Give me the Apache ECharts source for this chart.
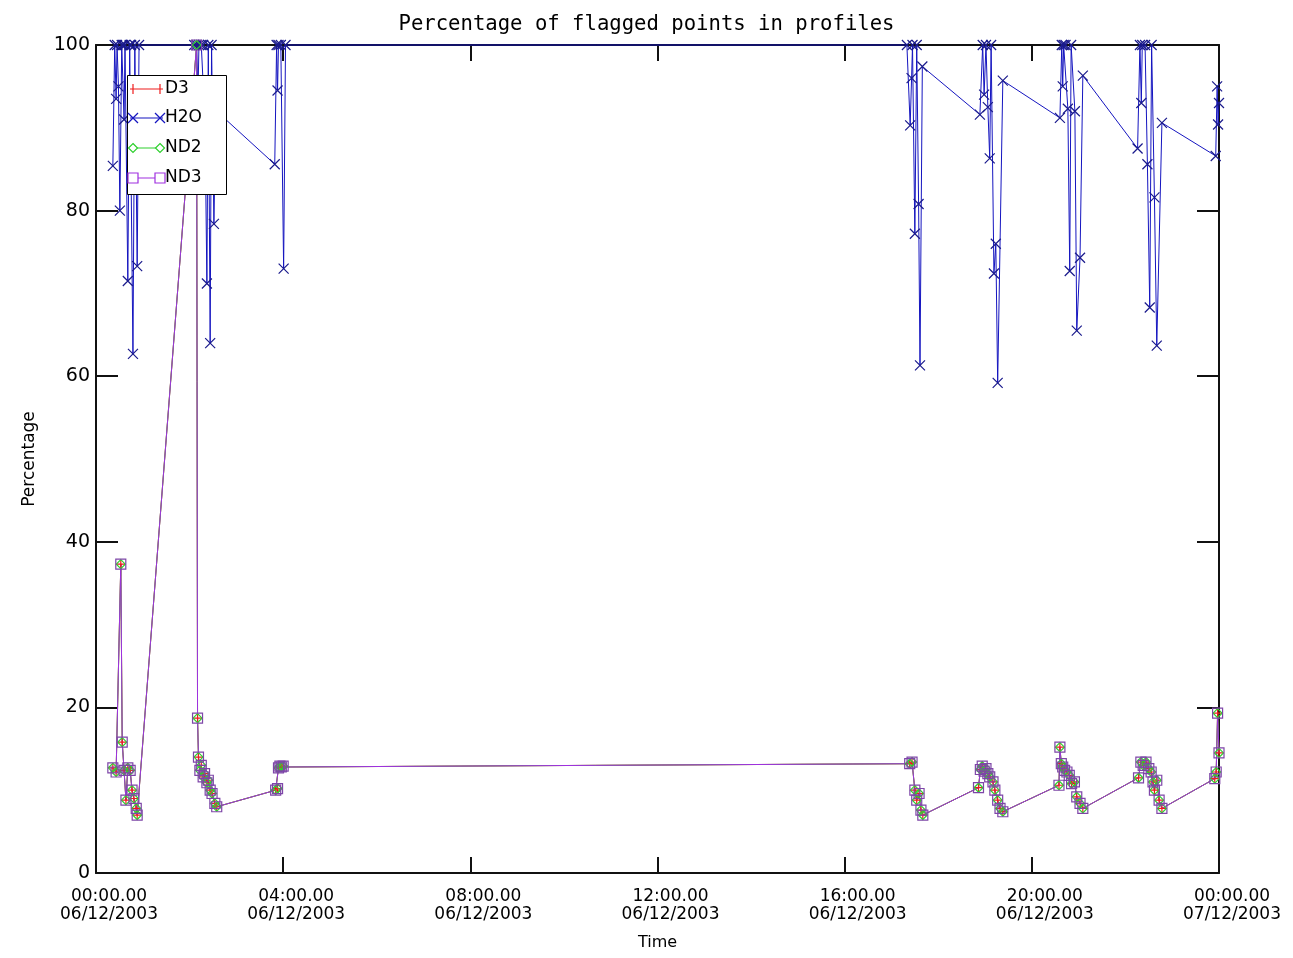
<!DOCTYPE html>
<html>
<head>
<meta charset="utf-8">
<script src="https://cdn.jsdelivr.net/npm/echarts@6/dist/echarts.min.js"></script>
<style>
html,body{margin:0;padding:0;background:#fff;}
#chart{width:1293px;height:958px;}
</style>
</head>
<body>
<div id="chart"></div>
<script>
// ---- Data (time in hours from 00:00 06/12/2003, value in percent) ----
const h2oTime = [0.36,0.40,0.43,0.45,0.48,0.51,0.55,0.58,0.60,0.62,0.68,0.72,0.75,0.79,0.83,0.88,0.92,
  2.10,2.15,2.18,2.20,2.25,2.29,2.33,2.37,2.40,2.44,2.47,2.52,2.56,
  3.82,3.86,3.88,3.90,3.95,4.01,4.05,
  17.33,17.40,17.43,17.45,17.50,17.54,17.58,17.61,17.66,
  18.89,18.95,18.98,19.02,19.06,19.10,19.13,19.19,19.23,19.27,19.38,
  20.60,20.64,20.66,20.68,20.72,20.77,20.81,20.84,20.92,20.96,21.03,21.09,
  22.26,22.31,22.34,22.36,22.42,22.47,22.52,22.56,22.62,22.67,22.78,
  23.93,23.96,23.98,24.00];
const h2oPct = [85.4,100,93.5,100,95.0,80.0,100,100,91.0,100,71.5,100,100,62.7,100,73.3,100,
  100,100,94.0,100,100,100,90.5,71.2,100,64.0,100,78.4,92.1,
  85.6,100,94.5,100,100,73.0,100,
  100,90.3,96.0,100,77.2,100,80.8,61.3,97.4,
  91.6,100,94.0,100,92.5,86.3,100,72.4,76.0,59.2,95.7,
  91.2,100,95.0,100,100,92.3,72.7,100,92.0,65.5,74.3,96.3,
  87.5,100,93.0,100,100,85.6,68.3,100,81.6,63.7,90.6,
  86.6,95.0,90.4,93.0];

const lowTime = [0.36,0.43,0.53,0.56,0.60,0.64,0.68,0.73,0.77,0.81,0.86,0.88,
  2.15,
  2.17,2.19,2.22,2.25,2.29,2.32,2.37,2.40,2.44,2.48,2.54,2.58,
  3.84,3.88,3.90,3.93,3.96,4.00,
  17.39,17.44,17.50,17.54,17.59,17.63,17.67,
  18.86,18.90,18.94,18.98,19.02,19.06,19.10,19.17,19.21,19.27,19.32,19.38,
  20.58,20.60,20.63,20.66,20.70,20.75,20.80,20.85,20.91,20.96,21.03,21.09,
  22.28,22.33,22.38,22.44,22.50,22.55,22.59,22.62,22.67,22.72,22.78,
  23.91,23.94,23.97,24.00];
const d3Pct = [12.7,12.2,37.3,15.8,12.4,8.8,12.7,12.4,10.0,9.0,7.8,7.0,
  100,
  18.7,14.0,12.4,13.0,11.6,12.0,10.9,11.2,10.0,9.6,8.4,8.0,
  10.0,10.2,12.7,12.9,12.8,12.9,
  13.2,13.4,10.0,8.8,9.6,7.6,7.0,
  10.3,12.5,12.9,12.3,12.6,12.0,11.6,11.0,10.0,8.8,7.8,7.4,
  10.6,15.2,13.2,12.8,12.4,12.2,11.8,10.8,11.0,9.2,8.4,7.8,
  11.5,13.4,13.0,13.4,12.6,12.2,11.0,10.0,11.2,8.8,7.8,
  11.4,12.2,19.3,14.5];
const nd2Pct = [12.7,12.2,37.3,15.8,12.4,8.8,12.7,12.4,10.0,9.0,7.8,7.0,
  100,
  18.7,14.0,12.4,13.0,11.6,12.0,10.9,11.2,10.0,9.6,8.4,8.0,
  10.0,10.2,12.7,12.9,12.8,12.9,
  13.2,13.4,10.0,8.8,9.6,7.6,7.0,
  10.3,12.5,12.9,12.3,12.6,12.0,11.6,11.0,10.0,8.8,7.8,7.4,
  10.6,15.2,13.2,12.8,12.4,12.2,11.8,10.8,11.0,9.2,8.4,7.8,
  11.5,13.4,13.0,13.4,12.6,12.2,11.0,10.0,11.2,8.8,7.8,
  11.4,12.2,19.3,14.5];
const nd3Pct = [12.7,12.2,37.3,15.8,12.4,8.8,12.7,12.4,10.0,9.0,7.8,7.0,
  100,
  18.7,14.0,12.4,13.0,11.6,12.0,10.9,11.2,10.0,9.6,8.4,8.0,
  10.0,10.2,12.7,12.9,12.8,12.9,
  13.2,13.4,10.0,8.8,9.6,7.6,7.0,
  10.3,12.5,12.9,12.3,12.6,12.0,11.6,11.0,10.0,8.8,7.8,7.4,
  10.6,15.2,13.2,12.8,12.4,12.2,11.8,10.8,11.0,9.2,8.4,7.8,
  11.5,13.4,13.0,13.4,12.6,12.2,11.0,10.0,11.2,8.8,7.8,
  11.4,12.2,19.3,14.5];

const seriesNames = ['D3','H2O','ND2','ND3'];
const xTickLabels = ['00:00.00\n06/12/2003','04:00.00\n06/12/2003','08:00.00\n06/12/2003',
  '12:00.00\n06/12/2003','16:00.00\n06/12/2003','20:00.00\n06/12/2003','00:00.00\n07/12/2003'];
const yTickLabels = ['0','20','40','60','80','100'];
const titleText = 'Percentage of flagged points in profiles';

// ---- Styles ----
const C_D3 = '#ee1c1c', C_H2O = '#1515c0', C_ND2 = '#2ed02e', C_ND3 = '#a030e0';
const FONT = 'DejaVu Sans';
const zip = (t, v) => t.map((x, i) => [x, v[i]]);

const SYM_PLUS = 'path://M5,0L5,10M0,5L10,5';
const SYM_X = 'path://M0,0L10,10M10,0L0,10';
const SYM_DIAMOND = 'path://M5,0L10,5L5,10L0,5Z';

function lineSeries(name, data, color, symbol, size, border, clip) {
  return {
    name, type: 'line', data, xAxisIndex: 0, yAxisIndex: 0,
    symbol, symbolSize: size, showAllSymbol: true, clip: clip !== false,
    lineStyle: { color, width: 1 },
    itemStyle: { color: 'rgba(0,0,0,0)', borderColor: border || color, borderWidth: 1.2 },
    emphasis: { disabled: true }, animation: false
  };
}

// legend drawn as graphic (box with line + end markers + label)
const LX = 127, LY = 75, LW = 99, LH = 119;
const rowY = [14, 43, 73, 103];
const legendColors = [C_D3, C_H2O, C_ND2, C_ND3];
const graphics = [{
  type: 'rect', z: 100, shape: { x: LX + 0.5, y: LY + 0.5, width: LW, height: LH },
  style: { fill: '#fff', stroke: '#000', lineWidth: 1 }
}];
function marker(kind, cx, cy, color) {
  const s = 5;
  if (kind === 0) return [
    { type: 'line', z: 101, shape: { x1: cx, y1: cy - s, x2: cx, y2: cy + s }, style: { stroke: color, lineWidth: 1.2 } }];
  if (kind === 1) return [
    { type: 'line', z: 101, shape: { x1: cx - s, y1: cy - s, x2: cx + s, y2: cy + s }, style: { stroke: color, lineWidth: 1.2 } },
    { type: 'line', z: 101, shape: { x1: cx - s, y1: cy + s, x2: cx + s, y2: cy - s }, style: { stroke: color, lineWidth: 1.2 } }];
  if (kind === 2) return [
    { type: 'polygon', z: 101, shape: { points: [[cx, cy - 4.5], [cx + 4.5, cy], [cx, cy + 4.5], [cx - 4.5, cy]] }, style: { fill: '#fff', stroke: color, lineWidth: 1.2 } }];
  return [
    { type: 'rect', z: 101, shape: { x: cx - 5, y: cy - 5, width: 10, height: 10 }, style: { fill: '#fff', stroke: color, lineWidth: 1.2 } }];
}
seriesNames.forEach((nm, i) => {
  const y = LY + rowY[i];
  const col = legendColors[i];
  graphics.push({ type: 'line', z: 101, shape: { x1: LX + 3, y1: y, x2: LX + 36, y2: y }, style: { stroke: col, lineWidth: 1.2 } });
  marker(i, LX + 6, y, col).forEach(g => graphics.push(g));
  marker(i, LX + 33, y, col).forEach(g => graphics.push(g));
  graphics.push({ type: 'text', z: 101, style: { x: LX + 38, y: y, text: nm, fill: '#000', font: '17px "DejaVu Sans"', textVerticalAlign: 'middle', verticalAlign: 'middle' } });
});

const axisLineStyle = { onZero: false, lineStyle: { color: '#111', width: 2 } };
const chart = echarts.init(document.getElementById('chart'), null, { renderer: 'canvas' });
chart.setOption({
  backgroundColor: '#fff',
  animation: false,
  title: {
    text: titleText, left: 'center', top: 9,
    textStyle: { fontFamily: 'DejaVu Sans Mono', fontSize: 20.6, fontWeight: 'normal', color: '#000' }
  },
  grid: { left: 96, right: 74, top: 45, bottom: 85, containLabel: false },
  xAxis: [{
    type: 'value', min: 0, max: 24, interval: 4, position: 'bottom',
    name: 'Time', nameLocation: 'middle', nameGap: 62,
    nameTextStyle: { fontFamily: FONT, fontSize: 16, color: '#000' },
    axisLine: axisLineStyle,
    axisTick: { inside: true, length: 16, lineStyle: { color: '#111', width: 2 } },
    axisLabel: {
      fontFamily: FONT, fontSize: 17, color: '#000', margin: 15, lineHeight: 18,
      padding: [0, 0, 0, 26],
      formatter: v => xTickLabels[Math.round(v / 4)]
    },
    splitLine: { show: false }
  }, {
    type: 'value', min: 0, max: 24, interval: 4, position: 'top',
    axisLine: axisLineStyle,
    axisTick: { inside: true, length: 16, lineStyle: { color: '#111', width: 2 } },
    axisLabel: { show: false }, splitLine: { show: false }
  }],
  yAxis: [{
    type: 'value', min: 0, max: 100, interval: 20, position: 'left',
    name: 'Percentage', nameLocation: 'middle', nameGap: 58, nameRotate: 90,
    nameTextStyle: { fontFamily: FONT, fontSize: 17, color: '#000' },
    axisLine: axisLineStyle,
    axisTick: { inside: true, length: 22, lineStyle: { color: '#111', width: 2 } },
    axisLabel: {
      fontFamily: FONT, fontSize: 19, color: '#000', margin: 6,
      formatter: v => yTickLabels[Math.round(v / 20)]
    },
    splitLine: { show: false }
  }, {
    type: 'value', min: 0, max: 100, interval: 20, position: 'right',
    axisLine: axisLineStyle,
    axisTick: { inside: true, length: 22, lineStyle: { color: '#111', width: 2 } },
    axisLabel: { show: false }, splitLine: { show: false }
  }],
  series: [
    lineSeries(seriesNames[0], zip(lowTime, d3Pct), C_D3, SYM_PLUS, 9),
    lineSeries(seriesNames[1], zip(h2oTime, h2oPct), C_H2O, SYM_X, 10, '#1a1a8c', false),
    lineSeries(seriesNames[2], zip(lowTime, nd2Pct), C_ND2, SYM_DIAMOND, 9),
    lineSeries(seriesNames[3], zip(lowTime, nd3Pct), C_ND3, 'rect', 10, '#7e46a8')
  ],
  graphic: graphics
});
</script>
</body>
</html>
